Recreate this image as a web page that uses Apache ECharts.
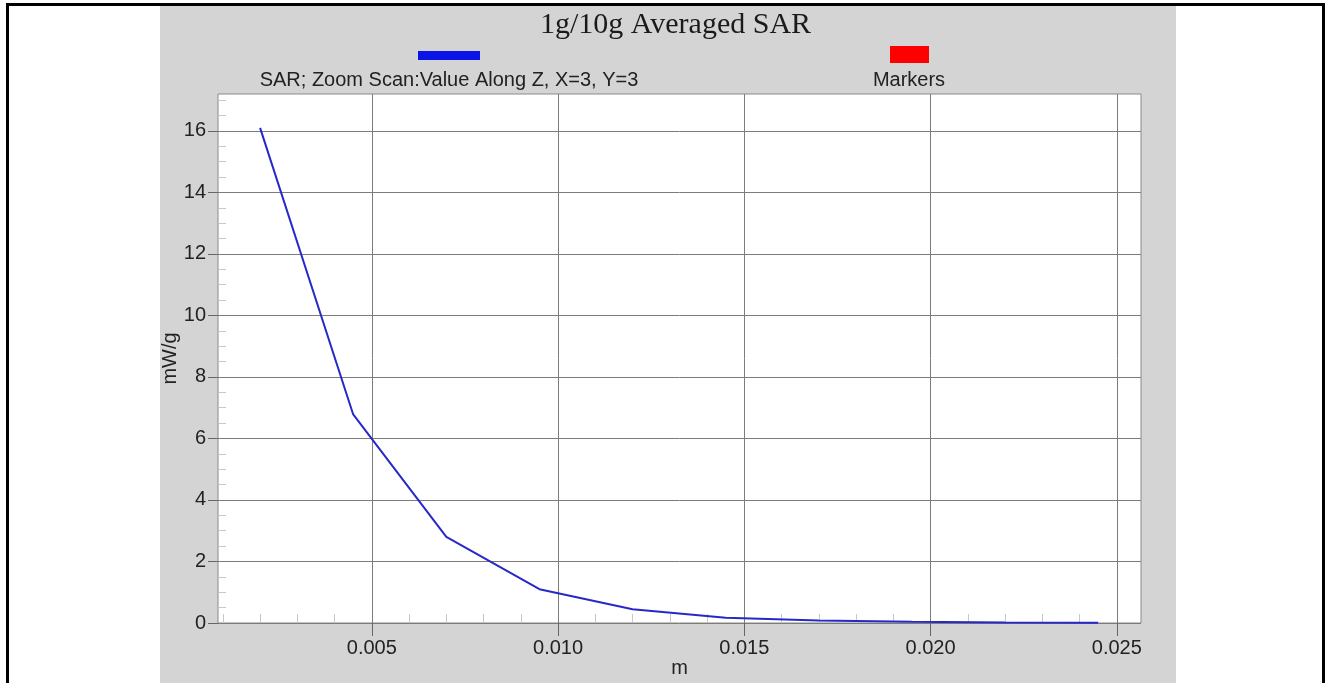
<!DOCTYPE html>
<html>
<head>
<meta charset="utf-8">
<title>1g/10g Averaged SAR</title>
<script src="https://cdn.jsdelivr.net/npm/echarts@6/dist/echarts.min.js"></script>
<style>
  html, body { margin: 0; padding: 0; background: #ffffff; }
  #chart { width: 1330px; height: 683px; }
</style>
</head>
<body>
<div id="chart"></div>
<script>
// Distance along Z (m) and averaged SAR (mW/g) along the zoom-scan column X=3, Y=3
const depthM = [0.002, 0.0045, 0.007, 0.0095, 0.012, 0.0145, 0.017, 0.0195, 0.022, 0.0245];
const sarValues = [16.1, 6.78, 2.8, 1.1, 0.45, 0.17, 0.08, 0.04, 0.02, 0.01];

const seriesNames = ['SAR; Zoom Scan:Value Along Z, X=3, Y=3', 'Markers'];
const seriesColors = ['#0a14e6', '#ff0000'];

// axis extents and the labelled tick positions
const xRange = [0.00087, 0.02565];
const yRange = [0, 17.2];
const xTicks = [0.005, 0.010, 0.015, 0.020, 0.025];
const yTicks = [0, 2, 4, 6, 8, 10, 12, 14, 16];

const points = depthM.map((x, i) => [x, sarValues[i]]);

const chart = echarts.init(document.getElementById('chart'), null, { renderer: 'canvas' });

const labelFont = { fontFamily: 'Liberation Sans, Arial, sans-serif', fontSize: 20, color: '#222222' };

chart.setOption({
  animation: false,
  backgroundColor: '#ffffff',
  title: {
    text: '1g/10g Averaged SAR',
    left: 535,
    top: 5,
    textStyle: { fontFamily: 'Liberation Serif, Times New Roman, serif', fontSize: 30, fontWeight: 'normal', color: '#1a1a1a' }
  },
  graphic: {
    elements: [
      // outer frame
      { type: 'rect', z: -20, shape: { x: 7.5, y: 4.5, width: 1316, height: 690 },
        style: { fill: '#ffffff', stroke: '#000000', lineWidth: 3 } },
      // grey chart panel
      { type: 'rect', z: -10, shape: { x: 160, y: 6, width: 1016, height: 690 },
        style: { fill: '#d4d4d4' } },
      // legend swatches with captions beneath
      { type: 'rect', z: 50, shape: { x: 418, y: 51, width: 62, height: 9 },
        style: { fill: seriesColors[0] } },
      { type: 'text', z: 50, x: 449, y: 70,
        style: { text: seriesNames[0], fill: '#222222', font: '20px "Liberation Sans", Arial, sans-serif', textAlign: 'center' } },
      { type: 'rect', z: 50, shape: { x: 890, y: 46, width: 39, height: 17 },
        style: { fill: seriesColors[1] } },
      { type: 'text', z: 50, x: 909, y: 70,
        style: { text: seriesNames[1], fill: '#222222', font: '20px "Liberation Sans", Arial, sans-serif', textAlign: 'center' } }
    ]
  },
  grid: {
    left: 218, right: 189, top: 94, bottom: 60,
    outerBoundsMode: 'none',
    containLabel: false,
    show: true, backgroundColor: '#ffffff', borderColor: '#8a8a8a', borderWidth: 1
  },
  xAxis: {
    type: 'value',
    min: xRange[0], max: xRange[1],
    name: 'm', nameLocation: 'middle', nameGap: 35, nameMoveOverlap: false,
    nameTextStyle: labelFont,
    axisLine: { show: false },
    axisTick: { show: true, length: 13, customValues: xTicks, lineStyle: { color: '#666666' } },
    minorTick: { show: true, splitNumber: 5, length: -9, lineStyle: { color: '#c8c8c8' } },
    axisLabel: Object.assign({ margin: 15, customValues: xTicks,
      formatter: v => v.toFixed(3) }, labelFont),
    splitLine: { show: true, lineStyle: { color: '#7c7c7c', width: 1 } }
  },
  yAxis: {
    type: 'value',
    min: yRange[0], max: yRange[1], interval: 2,
    name: 'mW/g', nameLocation: 'middle', nameGap: 38, nameMoveOverlap: false,
    nameTextStyle: labelFont,
    axisLine: { show: false },
    axisTick: { show: true, length: 10, customValues: yTicks, lineStyle: { color: '#666666' } },
    minorTick: { show: true, splitNumber: 4, length: -8, lineStyle: { color: '#c8c8c8' } },
    axisLabel: Object.assign({ margin: 12, customValues: yTicks }, labelFont),
    splitLine: { show: true, lineStyle: { color: '#7c7c7c', width: 1 } }
  },
  series: [{
    name: seriesNames[0],
    type: 'line',
    data: points,
    showSymbol: false,
    lineStyle: { color: '#2828c8', width: 2 },
    z: 5
  }]
});
</script>
</body>
</html>
